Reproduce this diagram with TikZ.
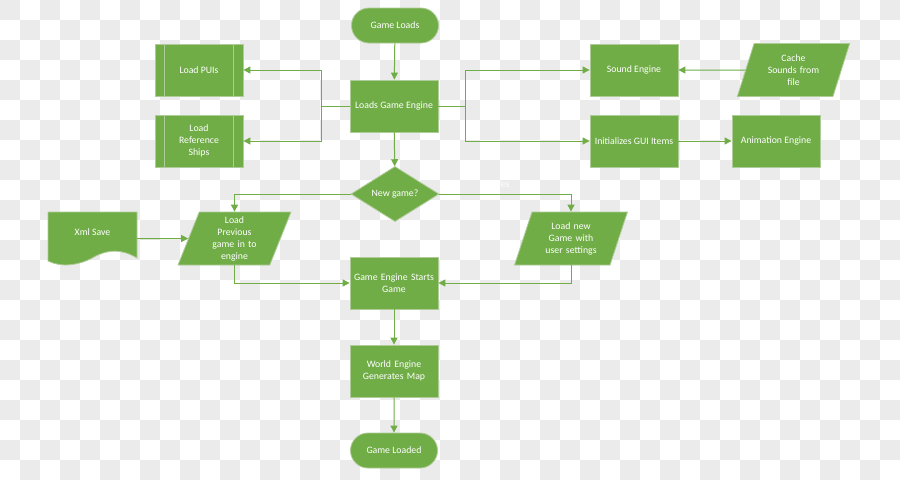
\documentclass[tikz,border=0pt]{standalone}
\usepackage{fontspec}
\setmainfont{Carlito}
\usetikzlibrary{shapes.geometric,shapes.misc,arrows.meta}
\definecolor{gfill}{HTML}{70AD47}
\definecolor{gline}{HTML}{70AD47}
\definecolor{gborder}{HTML}{AFCB97}
\definecolor{chk}{HTML}{EBEBEB}
\tikzset{
  base/.style={fill=gfill, draw=gborder, line width=0.8pt, text=white, font=\fontsize{9.8}{12}\selectfont, align=center, inner sep=1pt},
  proc/.style={base, rectangle, minimum width=88pt, minimum height=52pt},
  term/.style={base, rounded rectangle, minimum width=89pt, minimum height=35pt},
  predef/.style={proc},
  para/.style={base, trapezium, trapezium left angle=67.5, trapezium right angle=112.5, trapezium stretches=true, minimum width=113pt, minimum height=53pt},
  dec/.style={base, diamond, minimum width=88pt, minimum height=52pt, inner sep=0pt},
  ln/.style={draw=gline, line width=1pt},
  arr/.style={ln, -{Triangle[length=7pt,width=7pt]}},
  lbl/.style={text=white, font=\fontsize{9.8}{12}\selectfont},
}
\begin{document}
\begin{tikzpicture}[x=1pt,y=-1pt]
\useasboundingbox (0,0) rectangle (900,480);
\fill[white] (0,0) rectangle (900,480);
\foreach \i in {0,...,44}{
  \foreach \j in {0,...,23}{
    \pgfmathtruncatemacro{\pp}{mod(\i+\j,2)}
    \ifnum\pp=0 \fill[chk] (\i*20,\j*20) rectangle ++(20,20); \fi
  }
}
% nodes
\node[term] (gl) at (395,25.5) {Game Loads};
\node[proc] (lge) at (394,106) {Loads Game Engine};
\node[predef] (pui) at (199,70) {Load PUIs};
\node[predef, text width=60pt] (ref) at (199,141) {Load\\Reference\\Ships};
\node[proc] (se) at (634,70) {Sound Engine};
\node[proc] (gui) at (634,141) {Initializes GUI Items};
\node[proc] (anim) at (776,141) {Animation Engine};
\node[para, text width=62pt] (cache) at (793.5,70) {Cache\\Sounds from\\file};
\node[dec] (ng) at (395,194) {New game?};
\node[para, text width=62pt] (lp) at (234.5,238.5) {Load\\Previous\\game in to\\engine};
\node[para, text width=62pt] (lnew) at (571,238.5) {Load new\\Game with\\user settings};
\fill[gfill, draw=gborder, line width=0.8pt] (48,212) -- (137,212) -- (137,258)
  .. controls (122,249) and (108,249) .. (94,257)
  .. controls (80,265) and (62,268) .. (48,261) -- cycle;
\node[minimum width=89pt, minimum height=53pt, inner sep=0pt] (xml) at (92.5,238.5) {};
\node[lbl] at (92.5,232) {Xml Save};
\node[proc, text width=86pt] (ges) at (394,283) {Game Engine Starts\\Game};
\node[proc, text width=86pt] (weg) at (394,371) {World Engine\\Generates Map};
\node[term] (gld) at (394,450.5) {Game Loaded};
% inner lines of predefined process
\foreach \n in {pui,ref}{
  \draw[gborder, line width=0.8pt] ([xshift=10pt]\n.north west) -- ([xshift=10pt]\n.south west);
  \draw[gborder, line width=0.8pt] ([xshift=-10pt]\n.north east) -- ([xshift=-10pt]\n.south east);
}
% connectors
\draw[arr] (gl) -- (lge);
\draw[ln] (lge.west) -- ++(-28,0) coordinate (jl);
\draw[arr] (jl) |- (pui);
\draw[arr] (jl) |- (ref);
\draw[ln] (lge.east) -- ++(27,0) coordinate (jr);
\draw[arr] (jr) |- (se);
\draw[arr] (jr) |- (gui);
\draw[arr] (cache) -- (se);
\draw[arr] (gui) -- (anim);
\draw[arr] (lge) -- (ng);
\draw[arr] (ng) -| (lp);
\draw[arr] (ng) -| (lnew);
\draw[arr] (xml) -- (lp);
\draw[arr] (lp) |- (ges);
\draw[arr] (lnew) |- (ges);
\draw[arr] (ges) -- (weg);
\draw[arr] (weg) -- (gld);
\node[lbl] at (287,186) {No};
\node[lbl] at (503,184) {Yes};
\end{tikzpicture}
\end{document}
